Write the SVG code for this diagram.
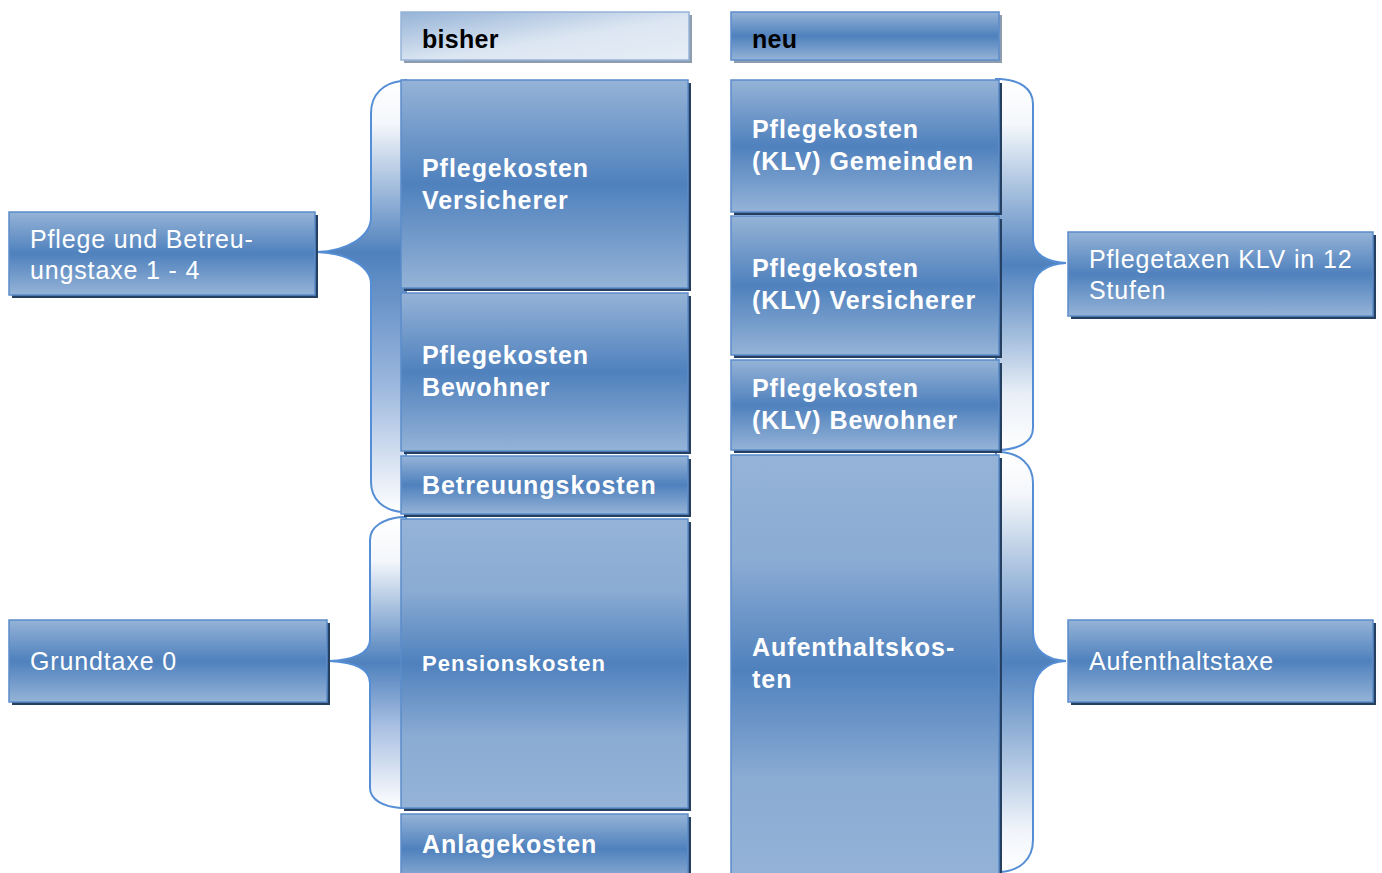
<svg xmlns="http://www.w3.org/2000/svg" width="1382" height="873" viewBox="0 0 1382 873">
<defs>
<linearGradient id="gBox" x1="0" y1="0" x2="0" y2="1">
<stop offset="0" stop-color="#95B3D7"/>
<stop offset="0.5" stop-color="#4F81BD"/>
<stop offset="1" stop-color="#95B3D7"/>
</linearGradient>
<linearGradient id="gBig" x1="0" y1="0" x2="0" y2="1">
<stop offset="0" stop-color="#95B3D7"/>
<stop offset="0.25" stop-color="#8AABD3"/>
<stop offset="0.5" stop-color="#4F81BD"/>
<stop offset="0.75" stop-color="#8AABD3"/>
<stop offset="1" stop-color="#95B3D7"/>
</linearGradient>
<linearGradient id="gBisher" x1="0" y1="0" x2="1" y2="1">
<stop offset="0" stop-color="#95B3D7"/>
<stop offset="0.55" stop-color="#DCE6F2"/>
<stop offset="1" stop-color="#E6EDF6"/>
</linearGradient>
<linearGradient id="gL1" gradientUnits="userSpaceOnUse" x1="0" y1="80" x2="0" y2="512">
<stop offset="0" stop-color="#FFFFFF"/>
<stop offset="0.1" stop-color="#F4F7FB"/>
<stop offset="0.4" stop-color="#4F81BD"/>
<stop offset="0.7" stop-color="#9AB6DD"/>
<stop offset="1" stop-color="#FFFFFF"/>
</linearGradient>
<linearGradient id="gL2" gradientUnits="userSpaceOnUse" x1="0" y1="517" x2="0" y2="808">
<stop offset="0" stop-color="#FFFFFF"/>
<stop offset="0.15" stop-color="#F4F7FB"/>
<stop offset="0.5" stop-color="#4F81BD"/>
<stop offset="0.72" stop-color="#A9C0E2"/>
<stop offset="1" stop-color="#FFFFFF"/>
</linearGradient>
<linearGradient id="gR1" gradientUnits="userSpaceOnUse" x1="0" y1="80" x2="0" y2="450">
<stop offset="0" stop-color="#FFFFFF"/>
<stop offset="0.12" stop-color="#F4F7FB"/>
<stop offset="0.5" stop-color="#4F81BD"/>
<stop offset="0.85" stop-color="#E9EFF7"/>
<stop offset="1" stop-color="#FFFFFF"/>
</linearGradient>
<linearGradient id="gR2" gradientUnits="userSpaceOnUse" x1="0" y1="452" x2="0" y2="872">
<stop offset="0" stop-color="#FFFFFF"/>
<stop offset="0.1" stop-color="#F4F7FB"/>
<stop offset="0.5" stop-color="#4F81BD"/>
<stop offset="0.9" stop-color="#F0F4FA"/>
<stop offset="1" stop-color="#FFFFFF"/>
</linearGradient>
</defs>
<style>
.sh{fill:#243F60}
.shg{fill:#8E9CB0}
.box{fill:url(#gBox);stroke:#5B8CCA;stroke-width:1.5}
.big{fill:url(#gBig);stroke:#5B8CCA;stroke-width:1.5}
.brace{stroke:#558ED5;stroke-width:2}
.tb{font-family:"Liberation Sans",Arial,sans-serif;font-weight:bold;font-size:25px;letter-spacing:0.95px;fill:#FFFFFF}
.tr{font-family:"Liberation Sans",Arial,sans-serif;font-size:25px;letter-spacing:0.85px;fill:#FFFFFF}
.th{font-family:"Liberation Sans",Arial,sans-serif;font-weight:bold;font-size:25px;letter-spacing:0.3px;fill:#000000}
</style>
<rect width="1382" height="873" fill="#FFFFFF"/>

<g id="connectors">
<path class="brace" fill="url(#gL1)" d="M406,80 L401,81 C384,83 371,94 371,113 L371,217 C371,238 345,251 317,252 C345,253 371,265 371,284 L371,482 C371,500 384,510 401,512 L406,512 Z"/>
<path class="brace" fill="url(#gL2)" d="M406,517 L401,517 C384,519 370,526 370,540 L370,640 C370,654 352,660 329,661 C352,662 370,668 370,683 L370,788 C370,800 384,807 401,808 L406,808 Z"/>
<path class="brace" fill="url(#gR1)" d="M996,79 L1000,79 C1019,80 1033,88 1033,104 L1033,240 C1033,254 1046,262 1066,263 C1046,264 1033,273 1033,290 L1033,428 C1033,442 1019,449 1000,450 L996,450 Z"/>
<path class="brace" fill="url(#gR2)" d="M996,452 L1000,452 C1019,453 1033,464 1033,483 L1033,632 C1033,650 1046,660 1066,661 C1046,662 1033,673 1033,696 L1033,840 C1033,860 1019,871 1000,872 L996,872 Z"/>
</g>

<g id="hdr-bisher">
<rect class="shg" x="404" y="15" width="288" height="48"/>
<rect x="401" y="12" width="288" height="48" fill="url(#gBisher)" stroke="#95B3D7" stroke-width="1.5"/>
<text class="th" x="422" y="48">bisher</text>
</g>
<g id="hdr-neu">
<rect class="shg" x="734" y="15" width="268" height="48"/>
<rect class="box" x="731" y="12" width="268" height="48" stroke="#8DAEDA"/>
<text class="th" x="752" y="48">neu</text>
</g>

<g id="b-versicherer">
<rect class="sh" x="404" y="83" width="287" height="208"/>
<rect class="box" x="401" y="80" width="287" height="208"/>
<text class="tb" x="422" y="177">Pflegekosten</text>
<text class="tb" x="422" y="209">Versicherer</text>
</g>
<g id="b-bewohner">
<rect class="sh" x="404" y="296" width="287" height="158"/>
<rect class="box" x="401" y="293" width="287" height="158"/>
<text class="tb" x="422" y="364">Pflegekosten</text>
<text class="tb" x="422" y="396">Bewohner</text>
</g>
<g id="b-betreuung">
<rect class="sh" x="404" y="459" width="287" height="58"/>
<rect class="box" x="401" y="456" width="287" height="58"/>
<text class="tb" x="422" y="494">Betreuungskosten</text>
</g>
<g id="b-pension">
<rect class="sh" x="404" y="522" width="287" height="289"/>
<rect class="big" x="401" y="519" width="287" height="289"/>
<text class="tb" x="422" y="671" style="font-size:22px;letter-spacing:1.1px">Pensionskosten</text>
</g>
<g id="b-anlage">
<rect class="sh" x="404" y="817" width="287" height="70"/>
<rect class="box" x="401" y="814" width="287" height="70"/>
<text class="tb" x="422" y="853">Anlagekosten</text>
</g>

<g id="n-gemeinden">
<rect class="sh" x="734" y="83" width="268" height="132"/>
<rect class="box" x="731" y="80" width="268" height="132"/>
<text class="tb" x="752" y="138">Pflegekosten</text>
<text class="tb" x="752" y="170">(KLV) Gemeinden</text>
</g>
<g id="n-versicherer">
<rect class="sh" x="734" y="219" width="268" height="139"/>
<rect class="box" x="731" y="216" width="268" height="139"/>
<text class="tb" x="752" y="277">Pflegekosten</text>
<text class="tb" x="752" y="309">(KLV) Versicherer</text>
</g>
<g id="n-bewohner">
<rect class="sh" x="734" y="363" width="268" height="90"/>
<rect class="box" x="731" y="360" width="268" height="90"/>
<text class="tb" x="752" y="397">Pflegekosten</text>
<text class="tb" x="752" y="429">(KLV) Bewohner</text>
</g>
<g id="n-aufenthalt">
<rect class="sh" x="734" y="458" width="268" height="430"/>
<rect class="big" x="731" y="455" width="268" height="430"/>
<text class="tb" x="752" y="656">Aufenthaltskos-</text>
<text class="tb" x="752" y="688">ten</text>
</g>

<g id="s-pflege">
<rect class="sh" x="12" y="215" width="306" height="83"/>
<rect class="box" x="9" y="212" width="306" height="83"/>
<text class="tr" x="30" y="248">Pflege und Betreu-</text>
<text class="tr" x="30" y="279">ungstaxe 1 - 4</text>
</g>
<g id="s-grund">
<rect class="sh" x="12" y="623" width="318" height="82"/>
<rect class="box" x="9" y="620" width="318" height="82"/>
<text class="tr" x="30" y="670">Grundtaxe 0</text>
</g>
<g id="s-klv">
<rect class="sh" x="1071" y="235" width="305" height="84"/>
<rect class="box" x="1068" y="232" width="305" height="84"/>
<text class="tr" x="1089" y="268">Pflegetaxen KLV in 12</text>
<text class="tr" x="1089" y="299">Stufen</text>
</g>
<g id="s-aufenthalt">
<rect class="sh" x="1071" y="623" width="305" height="82"/>
<rect class="box" x="1068" y="620" width="305" height="82"/>
<text class="tr" x="1089" y="670">Aufenthaltstaxe</text>
</g>
</svg>
